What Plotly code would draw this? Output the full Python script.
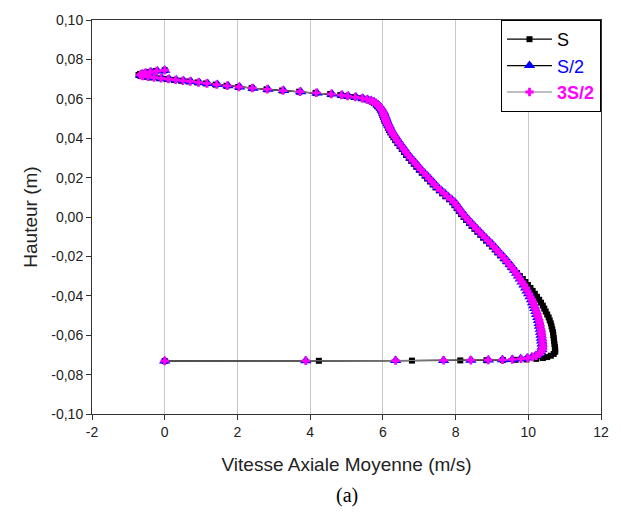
import plotly.graph_objects as go

# Height (m) of each profile point, from the top wall down to the bottom wall
hauteur = [
    0.0745, 0.0741, 0.0736, 0.0731, 0.0726, 0.0721, 0.0716, 0.0712, 0.0708, 0.0704,
    0.0700, 0.0696, 0.0692, 0.0688, 0.0683, 0.0678, 0.0672, 0.0666, 0.0660, 0.0654,
    0.0648, 0.0642, 0.0636, 0.0630, 0.0624, 0.0619, 0.0614, 0.0609, 0.0603, 0.0597,
    0.0591, 0.0585, 0.0578, 0.0570, 0.0562, 0.0554, 0.0545, 0.0536, 0.0527, 0.0517,
    0.0507, 0.0497, 0.0487, 0.0476, 0.0465, 0.0453, 0.0441, 0.0429, 0.0417, 0.0405,
    0.0390, 0.0375, 0.0360, 0.0345, 0.0330, 0.0315, 0.0300, 0.0285, 0.0270, 0.0255,
    0.0240, 0.0225, 0.0210, 0.0195, 0.0180, 0.0165, 0.0150, 0.0135, 0.0120, 0.0105,
    0.0090, 0.0075, 0.0060, 0.0045, 0.0030, 0.0015, 0.0000, -0.0015, -0.0030, -0.0045,
    -0.0060, -0.0075, -0.0090, -0.0105, -0.0120, -0.0135, -0.0150, -0.0165, -0.0180, -0.0195,
    -0.0210, -0.0225, -0.0240, -0.0255, -0.0270, -0.0285, -0.0300, -0.0315, -0.0330, -0.0345,
    -0.0360, -0.0375, -0.0390, -0.0405, -0.0420, -0.0435, -0.0450, -0.0465, -0.0480, -0.0495,
    -0.0510, -0.0525, -0.0540, -0.0555, -0.0570, -0.0585, -0.0600, -0.0615, -0.0630, -0.0645,
    -0.0660, -0.0672, -0.0684, -0.0695, -0.0704, -0.0711, -0.0716, -0.0720, -0.0723, -0.0725,
    -0.0726, -0.0727, -0.0728, -0.0729, -0.0730, -0.0731,
]

# Mean axial velocity (m/s), case S
vitesse_S = [
    0.00, -0.25, -0.45, -0.60, -0.68, -0.72, -0.66, -0.52, -0.35, -0.15,
    0.05, 0.25, 0.45, 0.66, 0.90, 1.13, 1.40, 1.70, 2.02, 2.39,
    2.80, 3.23, 3.70, 4.15, 4.55, 4.83, 5.00, 5.20, 5.40, 5.52,
    5.62, 5.70, 5.76, 5.81, 5.85, 5.89, 5.92, 5.95, 5.97, 5.99,
    6.01, 6.03, 6.05, 6.08, 6.11, 6.14, 6.17, 6.21, 6.25, 6.29,
    6.34, 6.40, 6.46, 6.52, 6.58, 6.64, 6.71, 6.78, 6.85, 6.92,
    6.99, 7.07, 7.15, 7.22, 7.30, 7.37, 7.45, 7.54, 7.63, 7.72,
    7.82, 7.91, 7.97, 8.03, 8.09, 8.15, 8.22, 8.29, 8.37, 8.44,
    8.52, 8.60, 8.68, 8.76, 8.84, 8.92, 9.00, 9.08, 9.15, 9.23,
    9.31, 9.38, 9.46, 9.53, 9.61, 9.69, 9.77, 9.85, 9.92, 9.99,
    10.06, 10.12, 10.18, 10.24, 10.30, 10.35, 10.40, 10.44, 10.48, 10.52,
    10.56, 10.59, 10.62, 10.64, 10.66, 10.68, 10.69, 10.70, 10.71, 10.72,
    10.73, 10.74, 10.74, 10.70, 10.62, 10.52, 10.40, 10.22, 9.95, 9.65,
    9.30, 8.85, 8.13, 6.80, 4.24, 0.00,
]

# Mean axial velocity (m/s), case S/2
vitesse_S2 = [
    0.00, -0.20, -0.38, -0.52, -0.62, -0.66, -0.60, -0.45, -0.28, -0.08,
    0.12, 0.32, 0.52, 0.72, 0.95, 1.18, 1.45, 1.74, 2.06, 2.43,
    2.84, 3.27, 3.74, 4.19, 4.60, 4.88, 5.05, 5.26, 5.45, 5.58,
    5.68, 5.76, 5.82, 5.87, 5.91, 5.95, 5.98, 6.01, 6.03, 6.05,
    6.07, 6.09, 6.11, 6.14, 6.17, 6.20, 6.23, 6.27, 6.31, 6.36,
    6.41, 6.47, 6.53, 6.59, 6.65, 6.71, 6.78, 6.85, 6.92, 6.99,
    7.06, 7.14, 7.22, 7.29, 7.37, 7.44, 7.52, 7.61, 7.70, 7.79,
    7.89, 7.98, 8.04, 8.10, 8.16, 8.22, 8.29, 8.36, 8.44, 8.51,
    8.59, 8.67, 8.75, 8.83, 8.91, 8.99, 9.07, 9.14, 9.21, 9.29,
    9.36, 9.43, 9.50, 9.56, 9.62, 9.68, 9.73, 9.78, 9.83, 9.88,
    9.93, 9.97, 10.01, 10.05, 10.09, 10.12, 10.15, 10.18, 10.21, 10.23,
    10.26, 10.28, 10.30, 10.31, 10.33, 10.34, 10.35, 10.36, 10.37, 10.38,
    10.38, 10.37, 10.34, 10.28, 10.20, 10.10, 9.97, 9.79, 9.56, 9.29,
    8.90, 8.42, 7.67, 6.35, 3.88, 0.00,
]

# Mean axial velocity (m/s), case 3S/2
vitesse_3S2 = [
    0.00, -0.22, -0.40, -0.54, -0.63, -0.67, -0.61, -0.46, -0.29, -0.10,
    0.10, 0.30, 0.50, 0.70, 0.93, 1.16, 1.43, 1.72, 2.04, 2.41,
    2.82, 3.25, 3.72, 4.17, 4.58, 4.86, 5.03, 5.24, 5.43, 5.56,
    5.66, 5.74, 5.80, 5.85, 5.89, 5.93, 5.96, 5.99, 6.01, 6.03,
    6.05, 6.07, 6.09, 6.12, 6.15, 6.18, 6.21, 6.25, 6.29, 6.34,
    6.39, 6.45, 6.51, 6.57, 6.63, 6.69, 6.76, 6.83, 6.90, 6.97,
    7.04, 7.12, 7.20, 7.27, 7.35, 7.42, 7.50, 7.59, 7.68, 7.77,
    7.87, 7.96, 8.02, 8.08, 8.14, 8.20, 8.27, 8.34, 8.42, 8.49,
    8.57, 8.65, 8.73, 8.81, 8.89, 8.97, 9.05, 9.12, 9.19, 9.27,
    9.34, 9.41, 9.48, 9.54, 9.61, 9.67, 9.72, 9.77, 9.83, 9.88,
    9.93, 9.97, 10.02, 10.06, 10.10, 10.13, 10.16, 10.19, 10.22, 10.25,
    10.27, 10.30, 10.32, 10.33, 10.35, 10.36, 10.37, 10.38, 10.39, 10.40,
    10.40, 10.39, 10.36, 10.30, 10.22, 10.12, 9.98, 9.80, 9.56, 9.29,
    8.90, 8.42, 7.67, 6.35, 3.88, 0.00,
]

x_ticks = [-2, 0, 2, 4, 6, 8, 10, 12]
x_ticktext = ["-2", "0", "2", "4", "6", "8", "10", "12"]
y_ticks = [0.10, 0.08, 0.06, 0.04, 0.02, 0.00, -0.02, -0.04, -0.06, -0.08, -0.10]
y_ticktext = ["0,10", "0,08", "0,06", "0,04", "0,02", "0,00",
              "-0,02", "-0,04", "-0,06", "-0,08", "-0,10"]

SANS = "Liberation Sans, Arial, sans-serif"
SERIF = "Liberation Serif, Times New Roman, serif"

fig = go.Figure()
fig.add_trace(go.Scatter(
    x=vitesse_S, y=hauteur, mode="lines+markers", name="S",
    line=dict(color="black", width=1.3),
    marker=dict(symbol="square", size=6, color="black"),
))
fig.add_trace(go.Scatter(
    x=vitesse_S2, y=hauteur, mode="lines+markers",
    name="<span style='color:#0000ff'>S/2</span>",
    line=dict(color="black", width=1.2),
    marker=dict(symbol="triangle-up", size=10, color="#0000ff"),
))
fig.add_trace(go.Scatter(
    x=vitesse_3S2, y=hauteur, mode="lines+markers",
    name="<b><span style='color:#ff00ff'>3S/2</span></b>",
    line=dict(color="#808080", width=1),
    marker=dict(symbol="cross", size=7, color="#ff00ff"),
))

fig.update_layout(
    width=621, height=521,
    margin=dict(l=92, r=19, t=14, b=107),
    paper_bgcolor="white", plot_bgcolor="white",
    font=dict(family=SANS, color="black"),
    showlegend=True,
    legend=dict(
        x=1, xanchor="right", y=1, yanchor="top",
        bgcolor="white", bordercolor="black", borderwidth=1,
        font=dict(family=SANS, size=18, color="black"),
        itemwidth=45, tracegroupgap=0,
    ),
    annotations=[dict(
        text="(a)", xref="paper", yref="paper", x=0.5, y=-0.2075,
        xanchor="center", yanchor="middle", showarrow=False,
        font=dict(family=SERIF, size=20, color="black"),
    )],
)

fig.update_xaxes(
    range=[-2, 12], tickvals=x_ticks, ticktext=x_ticktext,
    showgrid=True, gridcolor="#c8c8c8", gridwidth=1, zeroline=False,
    showline=True, linecolor="#333333", linewidth=1, mirror=True,
    ticks="outside", ticklen=5, tickcolor="#333333",
    tickfont=dict(family=SANS, size=14, color="#222222"),
    title=dict(text="Vitesse Axiale Moyenne (m/s)", standoff=18,
               font=dict(family=SANS, size=19, color="#222222")),
)
fig.update_yaxes(
    range=[-0.1, 0.1], tickvals=y_ticks, ticktext=y_ticktext,
    showgrid=False, zeroline=False,
    showline=True, linecolor="#333333", linewidth=1, mirror=True,
    ticks="outside", ticklen=5, tickcolor="#333333",
    tickfont=dict(family=SANS, size=14, color="#222222"),
    title=dict(text="Hauteur (m)", standoff=8,
               font=dict(family=SANS, size=19, color="#222222")),
)

fig.write_html("out.html")
